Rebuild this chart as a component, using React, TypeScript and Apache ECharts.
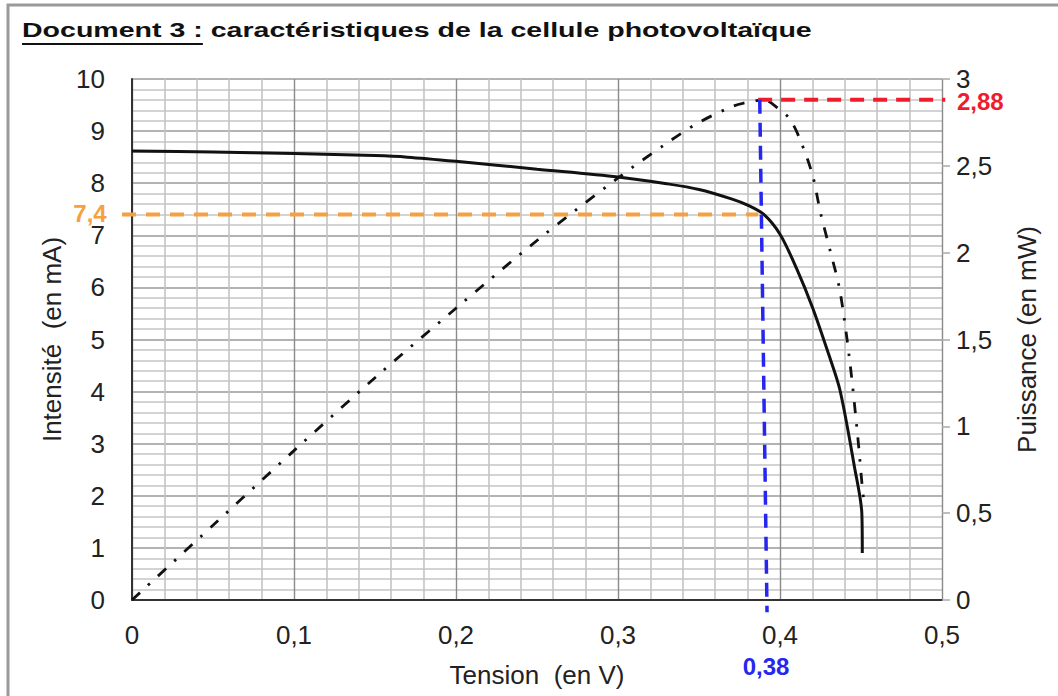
import React, { useEffect, useRef } from "react";
import * as echarts from "echarts";

// I-V characteristic (Tension en V, Intensité en mA)
const ivTension = [0, 0.05, 0.1, 0.15, 0.17, 0.2, 0.25, 0.3, 0.33, 0.35, 0.37, 0.38, 0.39, 0.4, 0.41, 0.42, 0.43, 0.437, 0.446, 0.4505, 0.4508];
const ivIntensite = [8.62, 8.6, 8.57, 8.53, 8.5, 8.42, 8.27, 8.12, 7.99, 7.88, 7.7, 7.58, 7.4, 7.02, 6.38, 5.62, 4.72, 4.03, 2.55, 1.67, 0.9];

// P-U characteristic (Tension en V, Puissance en mW)
const pTension = [0, 0.05, 0.1, 0.15, 0.2, 0.25, 0.3, 0.33, 0.35, 0.37, 0.377, 0.39, 0.399, 0.406, 0.412, 0.42, 0.425, 0.431, 0.437, 0.443, 0.448, 0.451, 0.452];
const pPuissance = [0, 0.43, 0.86, 1.28, 1.68, 2.07, 2.43, 2.63, 2.75, 2.84, 2.86, 2.88, 2.83, 2.77, 2.66, 2.45, 2.23, 2.01, 1.78, 1.38, 0.94, 0.63, 0.56];

// Annotated operating point
const imaxLabel = "7,4";
const imaxValue = 7.4;
const pmaxLabel = "2,88";
const pmaxValue = 2.88;
const umaxLabel = "0,38";
const umaxTop = 0.3875;
const umaxBottom = 0.392;
const orangeEnd = 0.3865;
const redStart = 0.3865;

const title2 = "Document 3 : caractéristiques de la cellule photovoltaïque";
const xName = "Tension  (en V)";
const yName = "Intensité  (en mA)";
const y2Name = "Puissance (en mW)";

const FONT = '"Liberation Sans", Arial, Helvetica, sans-serif';
const comma = (v: number) => String(Math.round(v * 100) / 100).replace(".", ",");

export default function App() {
  const ref = useRef<HTMLDivElement>(null);
  useEffect(() => {
    if (!ref.current) return;
    const chart = echarts.init(ref.current, undefined, { renderer: "svg" });
    const minorSplit = { show: true, lineStyle: { color: "#c4c4c4", width: 1.6 } };
    chart.setOption({
      animation: false,
      backgroundColor: "#ffffff",
      grid: { left: 132, right: 116, top: 79, bottom: 96 },
      xAxis: {
        type: "value",
        min: 0,
        max: 0.5,
        interval: 0.1,
        name: xName,
        nameLocation: "middle",
        nameGap: 62,
        nameTextStyle: { fontFamily: FONT, fontSize: 26, color: "#222" },
        axisLine: { show: true, onZero: false, lineStyle: { color: "#333", width: 2 } },
        axisTick: { show: false },
        axisLabel: { fontFamily: FONT, fontSize: 26, color: "#222", margin: 22, formatter: comma },
        splitLine: { show: true, lineStyle: { color: "#8a8a8a", width: 1.4 } },
        minorTick: { show: false, splitNumber: 5 },
        minorSplitLine: minorSplit,
      },
      yAxis: [
        {
          type: "value",
          min: 0,
          max: 10,
          interval: 1,
          name: yName,
          nameLocation: "middle",
          nameGap: 65,
          nameTextStyle: { fontFamily: FONT, fontSize: 26, color: "#222" },
          axisLine: { show: true, lineStyle: { color: "#333", width: 2 } },
          axisTick: { show: false },
          axisLabel: { fontFamily: FONT, fontSize: 26, color: "#222", margin: 27, formatter: comma },
          splitLine: { show: true, lineStyle: { color: "#9a9a9a", width: 1.6 } },
          minorTick: { show: false, splitNumber: 5 },
          minorSplitLine: minorSplit,
        },
        {
          type: "value",
          min: 0,
          max: 3,
          interval: 0.5,
          position: "right",
          name: y2Name,
          nameLocation: "middle",
          nameGap: 72,
          nameTextStyle: { fontFamily: FONT, fontSize: 26, color: "#222" },
          axisLine: { show: false },
          axisTick: { show: true, inside: false, length: 8, lineStyle: { color: "#aaaaaa", width: 1.5 } },
          axisLabel: { fontFamily: FONT, fontSize: 26, color: "#222", margin: 14, formatter: comma },
          splitLine: { show: false },
        },
      ],
      series: [
        {
          type: "line",
          yAxisIndex: 0,
          data: ivTension.map((u, i) => [u, ivIntensite[i]]),
          showSymbol: false,
          smooth: 0.3,
          lineStyle: { color: "#111", width: 3 },
          z: 5,
        },
        {
          type: "line",
          yAxisIndex: 1,
          data: pTension.map((u, i) => [u, pPuissance[i]]),
          showSymbol: false,
          smooth: 0.3,
          lineStyle: { color: "#111", width: 2.8, type: [11, 11, 2.5, 11] },
          z: 5,
        },
      ],
    });

    const px = (x: number, y: number) => chart.convertToPixel({ xAxisIndex: 0, yAxisIndex: 0 }, [x, y]) as number[];
    const pr = (x: number, y: number) => chart.convertToPixel({ xAxisIndex: 0, yAxisIndex: 1 }, [x, y]) as number[];

    const oA = px(0, imaxValue);
    const oB = px(orangeEnd, imaxValue);
    const rA = pr(redStart, pmaxValue);
    const rB = pr(0.502, pmaxValue);
    const bA = pr(umaxTop, pmaxValue);
    const bB = pr(umaxBottom, -0.07);

    const tScale = 1.36;
    chart.setOption({
      graphic: [
        {
          type: "rect",
          shape: { x: 8, y: 5, width: 1200, height: 900 },
          style: { fill: "none", stroke: "#9a9a9a", lineWidth: 3 },
          silent: true,
        },
        {
          type: "text",
          x: 22,
          y: 29,
          scaleX: tScale,
          style: { text: title2, font: `bold 21px ${FONT}`, fill: "#111", verticalAlign: "middle" },
        },
        {
          type: "line",
          shape: { x1: 22, y1: 44, x2: 22 + tScale * 133, y2: 44 },
          style: { stroke: "#111", lineWidth: 2 },
        },
        {
          type: "line",
          shape: { x1: oA[0] - 10, y1: oA[1], x2: oB[0], y2: oB[1] },
          style: { stroke: "#f5a142", lineWidth: 4, lineDash: [14, 10] },
          z: 10,
        },
        {
          type: "text",
          x: 90,
          y: oA[1] - 1,
          style: { text: imaxLabel, font: `bold 24px ${FONT}`, fill: "#f5a142", align: "center", verticalAlign: "middle" },
          z: 10,
        },
        {
          type: "line",
          shape: { x1: rA[0], y1: rA[1], x2: rB[0], y2: rB[1] },
          style: { stroke: "#ee1c2c", lineWidth: 4, lineDash: [14, 9] },
          z: 10,
        },
        {
          type: "text",
          x: 957,
          y: rA[1] + 2,
          style: { text: pmaxLabel, font: `bold 24px ${FONT}`, fill: "#ee1c2c", align: "left", verticalAlign: "middle" },
          z: 10,
        },
        {
          type: "line",
          shape: { x1: bA[0], y1: bA[1], x2: bB[0], y2: bB[1] },
          style: { stroke: "#2626f0", lineWidth: 3.5, lineDash: [14, 9] },
          z: 10,
        },
        {
          type: "text",
          x: bB[0] - 1,
          y: 666,
          style: { text: umaxLabel, font: `bold 24px ${FONT}`, fill: "#2626f0", align: "center", verticalAlign: "middle" },
          z: 10,
        },
      ],
    });

    return () => chart.dispose();
  }, []);
  return (
    <div
      ref={ref}
      style={{ position: "fixed", left: 0, top: 0, width: 1058, height: 696, background: "#fff" }}
    />
  );
}
